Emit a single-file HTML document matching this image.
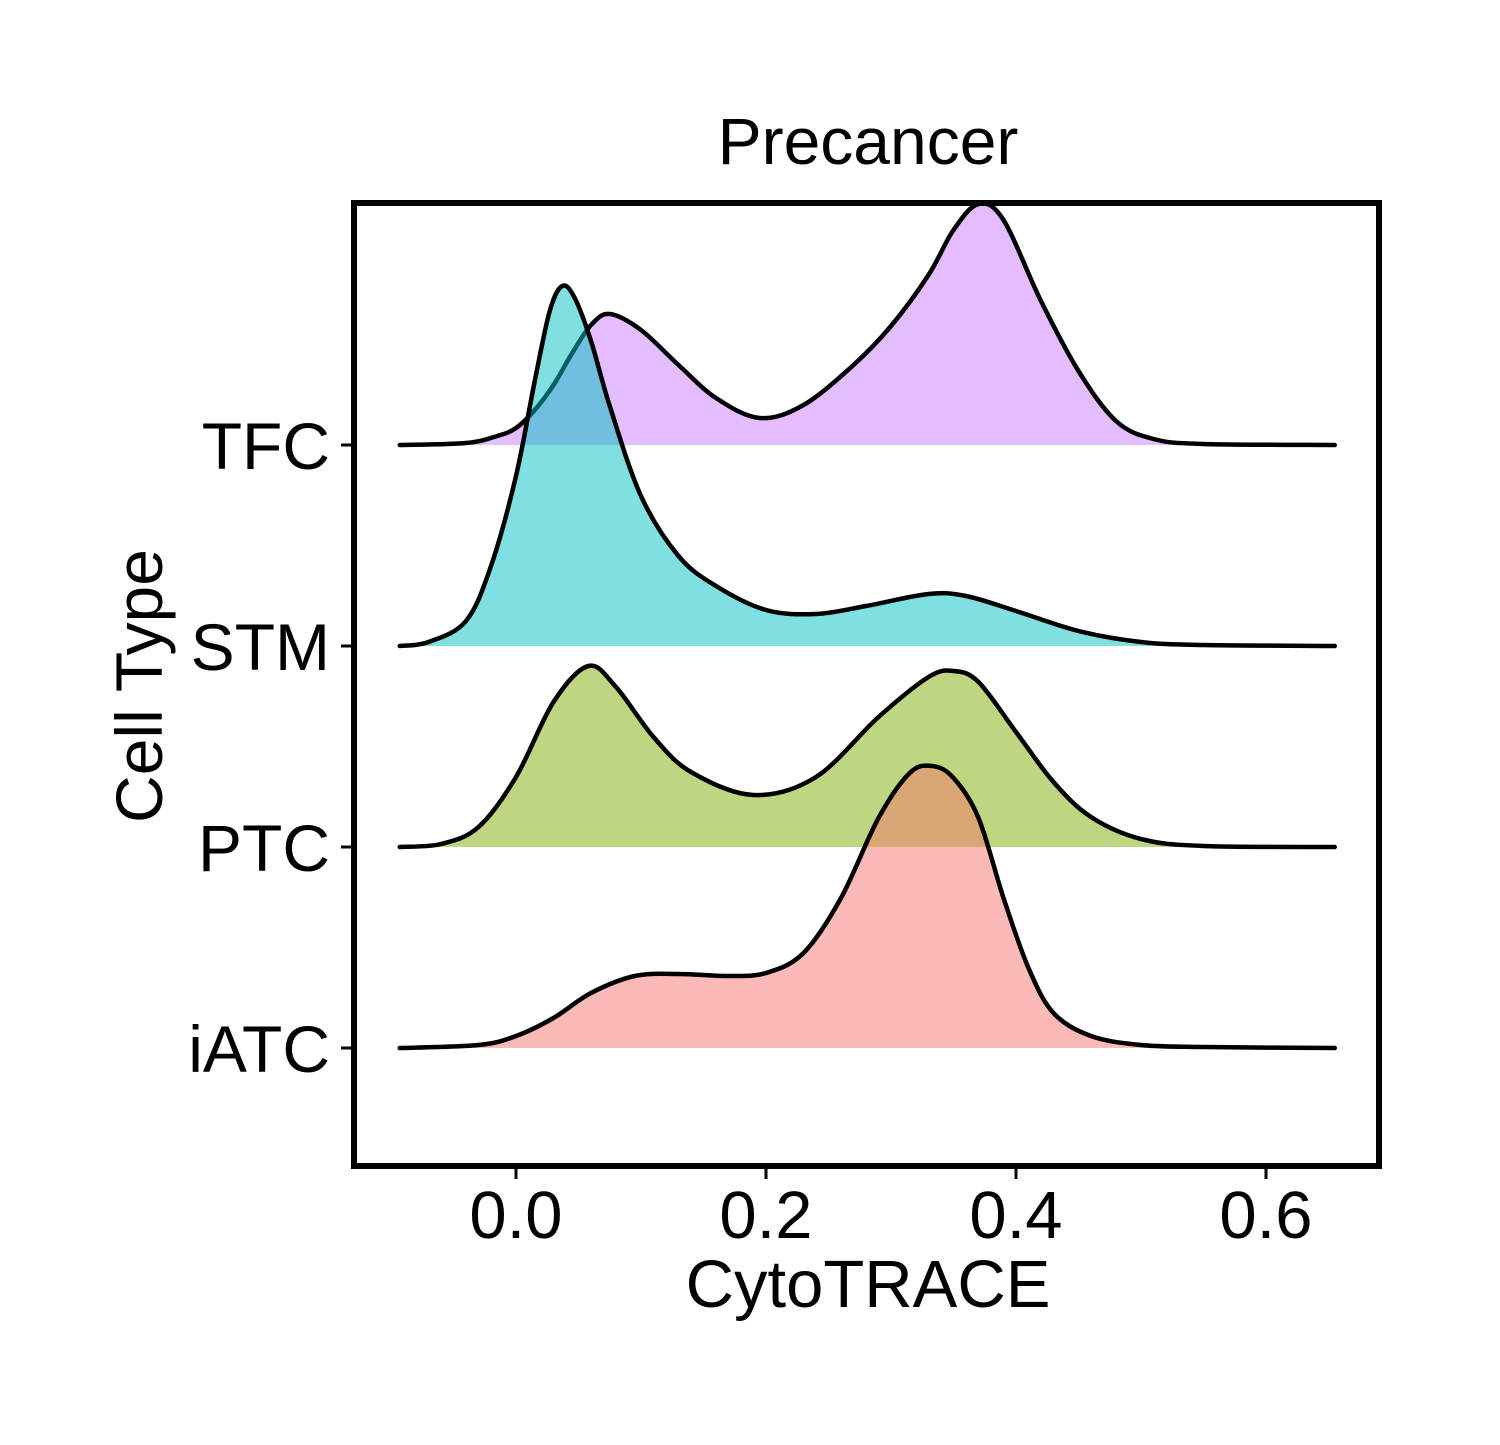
<!DOCTYPE html>
<html><head><meta charset="utf-8"><style>
body{margin:0;background:#fff;}
svg text{font-family:"Liberation Sans",sans-serif;fill:#000;}
</style></head><body>
<svg id="chart" width="1500" height="1440" viewBox="0 0 1500 1440" xmlns="http://www.w3.org/2000/svg">
<rect width="1500" height="1440" fill="#fff"/>
<text x="868" y="164" font-size="66" text-anchor="middle">Precancer</text>
<g id="ridges"></g>
<rect x="354" y="203" width="1025" height="963" fill="none" stroke="#000" stroke-width="6"/>
<g id="axes"></g>
<text x="868" y="1307" font-size="67" text-anchor="middle">CytoTRACE</text>
<text transform="translate(162,686) rotate(-90)" font-size="66" text-anchor="middle">Cell Type</text>
</svg>
<script>
const categories = ["iATC","PTC","STM","TFC"];
const xTicks = [0.0, 0.2, 0.4, 0.6];
const xTickLabels = ["0.0","0.2","0.4","0.6"];
const tfcX = [-0.093,-0.04,-0.015,0,0.015,0.03,0.045,0.06,0.075,0.1,0.13,0.16,0.195,0.23,0.27,0.3,0.33,0.35,0.37,0.39,0.42,0.45,0.48,0.51,0.55,0.655];
const tfcY = [0,2,9,17,35,60,92,120,131,115,80,47,27,40,80,119,170,215,241,225,144,74,24,6,1,0];
const stmX = [-0.093,-0.07,-0.04,-0.02,0,0.015,0.027,0.037,0.047,0.06,0.075,0.1,0.13,0.16,0.2,0.24,0.28,0.33,0.36,0.4,0.45,0.5,0.55,0.655];
const stmY = [0,4,25,80,170,265,335,360,348,305,240,150,90,60,36,32,40,52,50,35,15,4,1,0];
const ptcX = [-0.093,-0.06,-0.03,0,0.03,0.058,0.08,0.11,0.14,0.19,0.24,0.29,0.33,0.35,0.37,0.4,0.43,0.46,0.5,0.55,0.655];
const ptcY = [0,3,20,70,145,181,160,110,75,52,70,130,170,176,165,115,65,30,8,1,0];
const iatcX = [-0.093,-0.03,0,0.03,0.06,0.095,0.13,0.17,0.2,0.23,0.26,0.29,0.315,0.333,0.35,0.37,0.39,0.41,0.43,0.46,0.5,0.55,0.655];
const iatcY = [0,3,12,30,55,72,74,72,75,95,150,230,275,282,270,230,150,80,35,12,3,1,0];

const NS="http://www.w3.org/2000/svg";
const xS = v => 516 + v*1250;
const baseY = i => 1048 - i*201;
const hS = h => h;
const series = [
 {name:"TFC", idx:3, xs:tfcX, ys:tfcY, fill:"#C77CFF"},
 {name:"STM", idx:2, xs:stmX, ys:stmY, fill:"#00BFC4"},
 {name:"PTC", idx:1, xs:ptcX, ys:ptcY, fill:"#7CAE00"},
 {name:"iATC", idx:0, xs:iatcX, ys:iatcY, fill:"#F8766D"}
];
function smooth(pts){
  let d="M"+pts[0][0]+","+pts[0][1];
  for(let i=0;i<pts.length-1;i++){
    const p0=pts[Math.max(0,i-1)],p1=pts[i],p2=pts[i+1],p3=pts[Math.min(pts.length-1,i+2)];
    const c1=[p1[0]+(p2[0]-p0[0])/6,p1[1]+(p2[1]-p0[1])/6];
    const c2=[p2[0]-(p3[0]-p1[0])/6,p2[1]-(p3[1]-p1[1])/6];
    d+=" C"+c1[0]+","+c1[1]+" "+c2[0]+","+c2[1]+" "+p2[0]+","+p2[1];
  }
  return d;
}
const g=document.getElementById("ridges");
series.forEach(s=>{
  const b=baseY(s.idx);
  const pts=s.xs.map((x,i)=>[xS(x),b-hS(s.ys[i])]);
  const line=smooth(pts);
  const area=document.createElementNS(NS,"path");
  area.setAttribute("d",line+" L"+pts[pts.length-1][0]+","+b+" L"+pts[0][0]+","+b+" Z");
  area.setAttribute("fill",s.fill);area.setAttribute("fill-opacity","0.5");
  
  
  g.appendChild(area);
  const ln=document.createElementNS(NS,"path");
  ln.setAttribute("d",line);ln.setAttribute("fill","none");ln.setAttribute("stroke","#000");ln.setAttribute("stroke-width","4.5");ln.setAttribute("stroke-linecap","round");ln.setAttribute("stroke-linejoin","round");
  
  
  g.appendChild(ln);
});
const ax=document.getElementById("axes");
categories.forEach((c,i)=>{
  const y=baseY(i);
  const t=document.createElementNS(NS,"line");
  t.setAttribute("x1",341);t.setAttribute("x2",354);t.setAttribute("y1",y);t.setAttribute("y2",y);t.setAttribute("stroke","#000");t.setAttribute("stroke-width","3");
  
  
  ax.appendChild(t);
  const tx=document.createElementNS(NS,"text");
  tx.setAttribute("x",330);tx.setAttribute("y",y+24);tx.setAttribute("font-size","66");tx.setAttribute("text-anchor","end");
  tx.textContent=c;
  
  
  ax.appendChild(tx);
});
xTicks.forEach((v,i)=>{
  const x=xS(v);
  const t=document.createElementNS(NS,"line");
  t.setAttribute("x1",x);t.setAttribute("x2",x);t.setAttribute("y1",1166);t.setAttribute("y2",1179);t.setAttribute("stroke","#000");t.setAttribute("stroke-width","3");
  
  
  ax.appendChild(t);
  const tx=document.createElementNS(NS,"text");
  tx.setAttribute("x",x);tx.setAttribute("y",1238);tx.setAttribute("font-size","67");tx.setAttribute("text-anchor","middle");
  tx.textContent=xTickLabels[i];
  
  
  ax.appendChild(tx);
});
</script>
</body></html>
